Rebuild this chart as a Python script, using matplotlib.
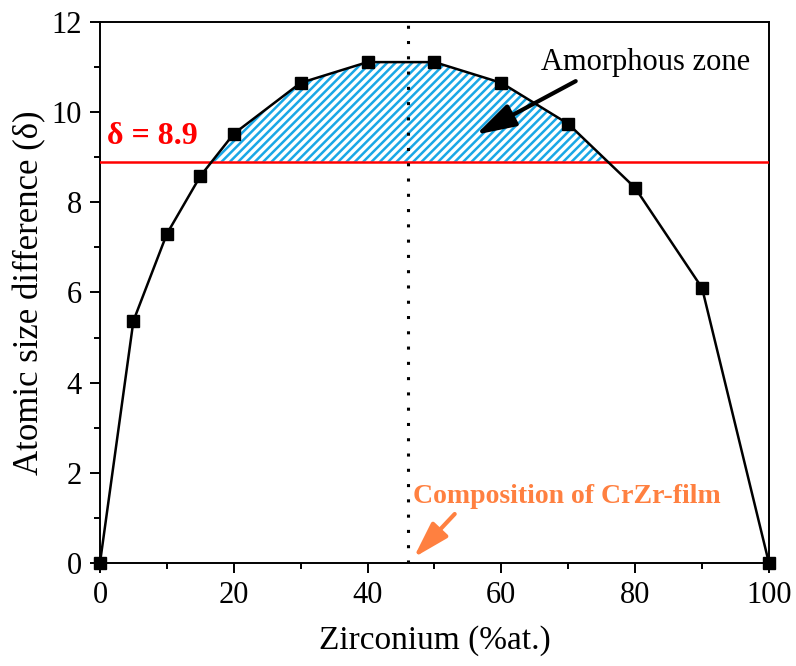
import numpy as np
import matplotlib
matplotlib.use("Agg")
import matplotlib.pyplot as plt
from matplotlib.ticker import MultipleLocator

plt.rcParams['font.family'] = ['Liberation Serif', 'DejaVu Serif']
plt.rcParams['hatch.color'] = '#1aa7e6'
plt.rcParams['hatch.linewidth'] = 1.8

# Atomic size difference versus Zr content
zr = [0, 5, 10, 15, 20, 30, 40, 50, 60, 70, 80, 90, 100]
delta = [0.0, 5.37, 7.30, 8.58, 9.52, 10.65, 11.11, 11.11, 10.65, 9.74, 8.32, 6.10, 0.0]
threshold = 8.9
film_zr = 46

fig = plt.figure(figsize=(7.96, 6.66), dpi=100)
ax = fig.add_axes([0.1256, 0.1547, 0.8404, 0.8123])

# hatched amorphous region above the threshold
xf = np.linspace(0, 100, 2001)
yf = np.interp(xf, zr, delta)
ax.fill_between(xf, threshold, yf, where=yf >= threshold, interpolate=True,
                facecolor='white', edgecolor='#1aa7e6', hatch='////', linewidth=0)

ax.axhline(threshold, color='red', lw=1.8, zorder=3)
ax.axvline(film_zr, color='black', lw=2.2, ls=(0, (1, 4)), zorder=3)

ax.plot(zr, delta, color='black', lw=1.8, marker='s', ms=8.5, zorder=4, clip_on=False)

ax.set_xlim(0, 100)
ax.set_ylim(0, 12)
ax.xaxis.set_major_locator(MultipleLocator(20))
ax.xaxis.set_minor_locator(MultipleLocator(10))
ax.yaxis.set_major_locator(MultipleLocator(2))
ax.yaxis.set_minor_locator(MultipleLocator(1))
ax.tick_params(which='both', direction='out', top=False, right=False, width=1.4)
ax.tick_params(which='major', length=7, labelsize=22, pad=6)
ax.tick_params(which='minor', length=4)
for s in ax.spines.values():
    s.set_linewidth(1.4)

ax.set_xlabel('Zirconium (%at.)', fontsize=24, labelpad=11)
ax.set_ylabel('Atomic size difference (δ)', fontsize=25, labelpad=4)

ax.text(1.1, 9.45, 'δ = 8.9', color='red', fontsize=23, fontweight='bold', va='center')

ax.annotate('Amorphous zone', xy=(56.2, 9.5), xytext=(66, 11.1), fontsize=22,
            ha='left', va='center',
            arrowprops=dict(arrowstyle='-|>,head_length=1.1,head_width=0.33',
                            color='black', lw=3, shrinkA=2, shrinkB=0,
                            relpos=(0.2, 0.0)))

ax.annotate('Composition of CrZr-film', xy=(46.9, 0.12), xytext=(46.8, 1.47),
            fontsize=20, fontweight='bold', color='#ff8040', ha='left', va='center',
            arrowprops=dict(arrowstyle='-|>,head_length=1.1,head_width=0.33',
                            color='#ff8040', lw=3, shrinkA=2, shrinkB=0,
                            relpos=(0.15, 0.0)))

fig.savefig('out.png', dpi=100)
